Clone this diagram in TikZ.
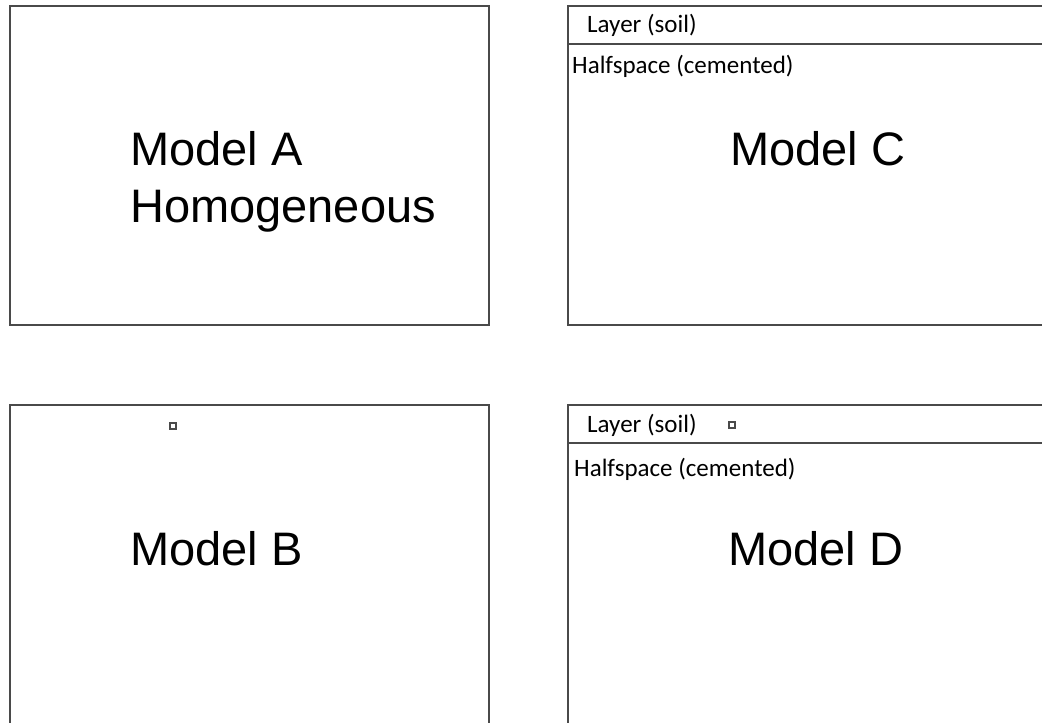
\documentclass[tikz,border=0pt]{standalone}
\usepackage{fontspec}
\setmainfont{Liberation Sans}
\newfontfamily\calfont{Carlito}
\definecolor{edge}{HTML}{4A4A4A}
\tikzset{
  panel/.style={draw=edge, line width=1.8pt},
  bigtext/.style={inner sep=0pt, anchor=base west, font=\fontsize{47}{56}\selectfont},
  smalltext/.style={inner sep=0pt, anchor=base west, font=\calfont\fontsize{25}{30}\selectfont},
  marker/.style={draw=edge, line width=1.2pt, minimum size=6pt, inner sep=0pt, fill=white}
}
\begin{document}
\begin{tikzpicture}[x=1pt,y=-1pt]
\useasboundingbox (0,0) rectangle (1042,723);
\fill[white] (0,0) rectangle (1042,723);
\begin{scope}
\clip (0,0) rectangle (1042,723);
% Model A
\draw[panel] (10,6) rectangle (489,325);
% Model C
\draw[panel] (568,6) rectangle (1060,325);
\draw[panel] (568,44) -- (1060,44);
% Model B
\draw[panel] (10,405) rectangle (489,740);
% Model D
\draw[panel] (568,405) rectangle (1060,740);
\draw[panel] (568,443) -- (1060,443);
\end{scope}
% texts
\node[bigtext] (ma) at (130,165) {Model A};
\node[bigtext] (hom) at (130,222) {Homogeneous};
\node[bigtext] (mc) at (730,165) {Model C};
\node[smalltext] (lc) at (587,32) {Layer (soil)};
\node[smalltext] (hc) at (572,73) {Halfspace (cemented)};
\node[bigtext] (mb) at (130,565) {Model B};
\node[marker] (sb) at (173,426) {};
\node[bigtext] (md) at (728,565) {Model D};
\node[smalltext] (ld) at (587,432) {Layer (soil)};
\node[marker] (sd) at (732,425) {};
\node[smalltext] (hd) at (574,476) {Halfspace (cemented)};
\end{tikzpicture}
\end{document}
